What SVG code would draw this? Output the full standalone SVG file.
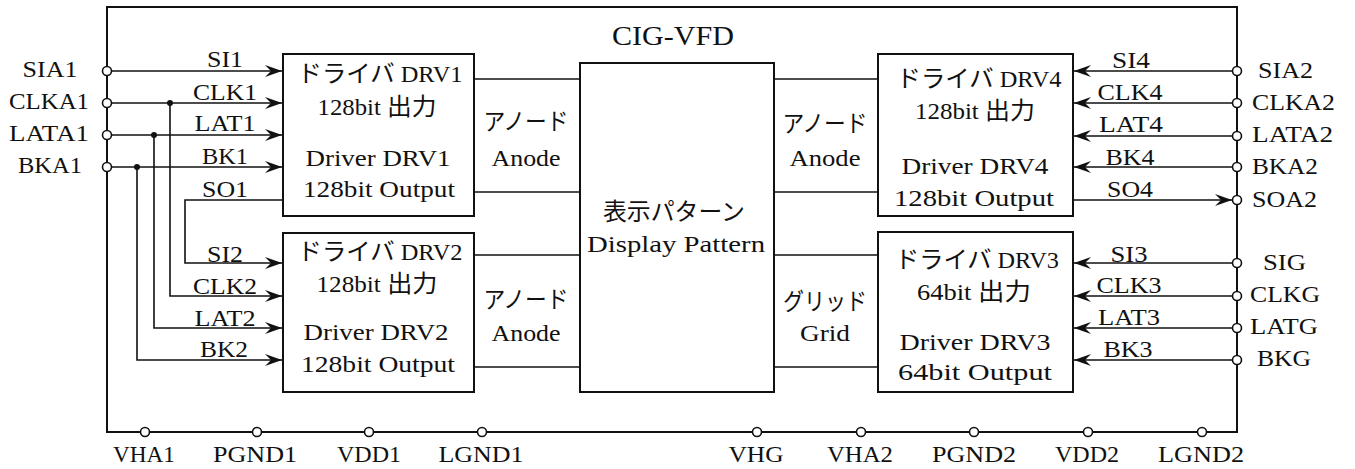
<svg xmlns="http://www.w3.org/2000/svg" width="1355" height="469" viewBox="0 0 1355 469">
<style>
text{font-family:"Liberation Serif","Noto Sans CJK JP",serif;font-size:24px;fill:#111}
.t{font-size:27px}
.c{text-anchor:middle}
.box{fill:#fff;stroke:#111;stroke-width:2}
.ln{fill:none;stroke:#111;stroke-width:1.6}
.fr{fill:none;stroke:#111;stroke-width:2}
.pin{fill:#fff;stroke:#111;stroke-width:1.6}
.dot{fill:#111}
</style>
<defs>
<marker id="ah" markerUnits="userSpaceOnUse" markerWidth="20" markerHeight="14" viewBox="-17 -7 18 14" refX="0" refY="0" orient="auto">
<path d="M-17,-6 L0,0 L-17,6 L-11,0 Z" fill="#111"/>
</marker>
</defs>

<g id="frame">
<path class="fr" d="M107,7 H1237 V432 H107 Z"/>
<text class="t c" x="673" y="45" textLength="122" lengthAdjust="spacingAndGlyphs">CIG-VFD</text>
</g>

<g id="connectors">
<line class="ln" x1="112" y1="71" x2="282" y2="71" marker-end="url(#ah)"/>
<line class="ln" x1="112" y1="103" x2="282" y2="103" marker-end="url(#ah)"/>
<line class="ln" x1="112" y1="135" x2="282" y2="135" marker-end="url(#ah)"/>
<line class="ln" x1="112" y1="167" x2="282" y2="167" marker-end="url(#ah)"/>
<polyline class="ln" points="170,103 170,296 282,296" marker-end="url(#ah)"/>
<polyline class="ln" points="154,135 154,328 282,328" marker-end="url(#ah)"/>
<polyline class="ln" points="137,167 137,360 282,360" marker-end="url(#ah)"/>
<polyline class="ln" points="283,200 185,200 185,263 282,263" marker-end="url(#ah)"/>
<circle class="dot" cx="170" cy="103" r="3"/>
<circle class="dot" cx="154" cy="135" r="3"/>
<circle class="dot" cx="137" cy="167" r="3"/>
<line class="ln" x1="474" y1="79" x2="580" y2="79"/>
<line class="ln" x1="474" y1="192" x2="580" y2="192"/>
<line class="ln" x1="474" y1="255" x2="580" y2="255"/>
<line class="ln" x1="474" y1="367" x2="580" y2="367"/>
<line class="ln" x1="774" y1="79" x2="878" y2="79"/>
<line class="ln" x1="774" y1="192" x2="878" y2="192"/>
<line class="ln" x1="774" y1="255" x2="878" y2="255"/>
<line class="ln" x1="774" y1="367" x2="878" y2="367"/>
<line class="ln" x1="1232" y1="71" x2="1074" y2="71" marker-end="url(#ah)"/>
<line class="ln" x1="1232" y1="103" x2="1074" y2="103" marker-end="url(#ah)"/>
<line class="ln" x1="1232" y1="136" x2="1074" y2="136" marker-end="url(#ah)"/>
<line class="ln" x1="1232" y1="167" x2="1074" y2="167" marker-end="url(#ah)"/>
<line class="ln" x1="1073" y1="200" x2="1232" y2="200" marker-end="url(#ah)"/>
<line class="ln" x1="1232" y1="263" x2="1074" y2="263" marker-end="url(#ah)"/>
<line class="ln" x1="1232" y1="296" x2="1074" y2="296" marker-end="url(#ah)"/>
<line class="ln" x1="1232" y1="328" x2="1074" y2="328" marker-end="url(#ah)"/>
<line class="ln" x1="1232" y1="360" x2="1074" y2="360" marker-end="url(#ah)"/>
<text class="c" x="225" y="67" textLength="36" lengthAdjust="spacingAndGlyphs">SI1</text>
<text class="c" x="225" y="100" textLength="64" lengthAdjust="spacingAndGlyphs">CLK1</text>
<text class="c" x="225" y="131" textLength="61" lengthAdjust="spacingAndGlyphs">LAT1</text>
<text class="c" x="225" y="164" textLength="46" lengthAdjust="spacingAndGlyphs">BK1</text>
<text class="c" x="225" y="197" textLength="46" lengthAdjust="spacingAndGlyphs">SO1</text>
<text class="c" x="225" y="262" textLength="36" lengthAdjust="spacingAndGlyphs">SI2</text>
<text class="c" x="225" y="294" textLength="64" lengthAdjust="spacingAndGlyphs">CLK2</text>
<text class="c" x="225" y="326" textLength="61" lengthAdjust="spacingAndGlyphs">LAT2</text>
<text class="c" x="224" y="357" textLength="48" lengthAdjust="spacingAndGlyphs">BK2</text>
<text class="c" x="1131" y="68" textLength="38" lengthAdjust="spacingAndGlyphs">SI4</text>
<text class="c" x="1130" y="100" textLength="65" lengthAdjust="spacingAndGlyphs">CLK4</text>
<text class="c" x="1131" y="132" textLength="64" lengthAdjust="spacingAndGlyphs">LAT4</text>
<text class="c" x="1130" y="165" textLength="49" lengthAdjust="spacingAndGlyphs">BK4</text>
<text class="c" x="1130" y="197" textLength="46" lengthAdjust="spacingAndGlyphs">SO4</text>
<text class="c" x="1129" y="262" textLength="37" lengthAdjust="spacingAndGlyphs">SI3</text>
<text class="c" x="1129" y="293" textLength="65" lengthAdjust="spacingAndGlyphs">CLK3</text>
<text class="c" x="1129" y="325" textLength="62" lengthAdjust="spacingAndGlyphs">LAT3</text>
<text class="c" x="1128" y="357" textLength="49" lengthAdjust="spacingAndGlyphs">BK3</text>
<text class="c" x="526" y="130" textLength="85" lengthAdjust="spacingAndGlyphs">アノード</text>
<text class="c" x="526" y="166" textLength="69" lengthAdjust="spacingAndGlyphs">Anode</text>
<text class="c" x="526" y="308" textLength="85" lengthAdjust="spacingAndGlyphs">アノード</text>
<text class="c" x="526" y="341" textLength="69" lengthAdjust="spacingAndGlyphs">Anode</text>
<text class="c" x="825" y="132" textLength="85" lengthAdjust="spacingAndGlyphs">アノード</text>
<text class="c" x="825" y="166" textLength="71" lengthAdjust="spacingAndGlyphs">Anode</text>
<text class="c" x="825" y="310" textLength="84" lengthAdjust="spacingAndGlyphs">グリッド</text>
<text class="c" x="825" y="341" textLength="50" lengthAdjust="spacingAndGlyphs">Grid</text>
</g>

<g id="DRV1">
<rect class="box" x="283" y="54" width="191" height="162"/>
<text class="c" x="380" y="82" textLength="165" lengthAdjust="spacingAndGlyphs">ドライバ DRV1</text>
<text class="c" x="377" y="115" textLength="119" lengthAdjust="spacingAndGlyphs">128bit 出力</text>
<text class="c" x="378" y="166" textLength="145" lengthAdjust="spacingAndGlyphs">Driver DRV1</text>
<text class="c" x="379" y="197" textLength="152" lengthAdjust="spacingAndGlyphs">128bit Output</text>
</g>

<g id="DRV2">
<rect class="box" x="283" y="233" width="191" height="159"/>
<text class="c" x="380" y="260" textLength="165" lengthAdjust="spacingAndGlyphs">ドライバ DRV2</text>
<text class="c" x="377" y="292" textLength="121" lengthAdjust="spacingAndGlyphs">128bit 出力</text>
<text class="c" x="376" y="340" textLength="145" lengthAdjust="spacingAndGlyphs">Driver DRV2</text>
<text class="c" x="378" y="372" textLength="154" lengthAdjust="spacingAndGlyphs">128bit Output</text>
</g>

<g id="display">
<rect class="box" x="580" y="63" width="194" height="329"/>
<text class="c" x="674" y="220" textLength="142" lengthAdjust="spacingAndGlyphs">表示パターン</text>
<text class="c" x="676" y="252" textLength="178" lengthAdjust="spacingAndGlyphs">Display Pattern</text>
</g>

<g id="DRV4">
<rect class="box" x="878" y="54" width="195" height="162"/>
<text class="c" x="979" y="87" textLength="165" lengthAdjust="spacingAndGlyphs">ドライバ DRV4</text>
<text class="c" x="975" y="119" textLength="120" lengthAdjust="spacingAndGlyphs">128bit 出力</text>
<text class="c" x="975" y="174" textLength="147" lengthAdjust="spacingAndGlyphs">Driver DRV4</text>
<text class="c" x="974" y="206" textLength="160" lengthAdjust="spacingAndGlyphs">128bit Output</text>
</g>

<g id="DRV3">
<rect class="box" x="878" y="232" width="195" height="160"/>
<text class="c" x="977" y="268" textLength="164" lengthAdjust="spacingAndGlyphs">ドライバ DRV3</text>
<text class="c" x="974" y="300" textLength="114" lengthAdjust="spacingAndGlyphs">64bit 出力</text>
<text class="c" x="975" y="350" textLength="151" lengthAdjust="spacingAndGlyphs">Driver DRV3</text>
<text class="c" x="975" y="380" textLength="154" lengthAdjust="spacingAndGlyphs">64bit Output</text>
</g>

<g id="pins-left">
<circle class="pin" cx="107" cy="71" r="4.5"/>
<circle class="pin" cx="107" cy="103" r="4.5"/>
<circle class="pin" cx="107" cy="135" r="4.5"/>
<circle class="pin" cx="107" cy="167" r="4.5"/>
<text class="c" x="50" y="77" textLength="55" lengthAdjust="spacingAndGlyphs">SIA1</text>
<text class="c" x="49" y="109" textLength="80" lengthAdjust="spacingAndGlyphs">CLKA1</text>
<text class="c" x="49" y="141" textLength="80" lengthAdjust="spacingAndGlyphs">LATA1</text>
<text class="c" x="50" y="173" textLength="64" lengthAdjust="spacingAndGlyphs">BKA1</text>
</g>

<g id="pins-right">
<circle class="pin" cx="1237" cy="71" r="4.5"/>
<circle class="pin" cx="1237" cy="103" r="4.5"/>
<circle class="pin" cx="1237" cy="136" r="4.5"/>
<circle class="pin" cx="1237" cy="167" r="4.5"/>
<circle class="pin" cx="1237" cy="200" r="4.5"/>
<circle class="pin" cx="1237" cy="263" r="4.5"/>
<circle class="pin" cx="1237" cy="296" r="4.5"/>
<circle class="pin" cx="1237" cy="328" r="4.5"/>
<circle class="pin" cx="1237" cy="360" r="4.5"/>
<text x="1258" y="78" textLength="55" lengthAdjust="spacingAndGlyphs">SIA2</text>
<text x="1252" y="110" textLength="83" lengthAdjust="spacingAndGlyphs">CLKA2</text>
<text x="1252" y="142" textLength="81" lengthAdjust="spacingAndGlyphs">LATA2</text>
<text x="1252" y="174" textLength="66" lengthAdjust="spacingAndGlyphs">BKA2</text>
<text x="1252" y="207" textLength="65" lengthAdjust="spacingAndGlyphs">SOA2</text>
<text x="1263" y="270" textLength="43" lengthAdjust="spacingAndGlyphs">SIG</text>
<text x="1250" y="302" textLength="70" lengthAdjust="spacingAndGlyphs">CLKG</text>
<text x="1250" y="334" textLength="68" lengthAdjust="spacingAndGlyphs">LATG</text>
<text x="1257" y="366" textLength="54" lengthAdjust="spacingAndGlyphs">BKG</text>
</g>

<g id="pins-bottom">
<circle class="pin" cx="145" cy="432" r="4.5"/>
<circle class="pin" cx="257" cy="432" r="4.5"/>
<circle class="pin" cx="369" cy="432" r="4.5"/>
<circle class="pin" cx="482" cy="432" r="4.5"/>
<circle class="pin" cx="757" cy="432" r="4.5"/>
<circle class="pin" cx="861" cy="432" r="4.5"/>
<circle class="pin" cx="974" cy="432" r="4.5"/>
<circle class="pin" cx="1088" cy="432" r="4.5"/>
<circle class="pin" cx="1202" cy="432" r="4.5"/>
<text class="c" x="144" y="462" textLength="62" lengthAdjust="spacingAndGlyphs">VHA1</text>
<text class="c" x="255" y="462" textLength="84" lengthAdjust="spacingAndGlyphs">PGND1</text>
<text class="c" x="369" y="462" textLength="64" lengthAdjust="spacingAndGlyphs">VDD1</text>
<text class="c" x="481" y="462" textLength="85" lengthAdjust="spacingAndGlyphs">LGND1</text>
<text class="c" x="756" y="462" textLength="55" lengthAdjust="spacingAndGlyphs">VHG</text>
<text class="c" x="860" y="462" textLength="66" lengthAdjust="spacingAndGlyphs">VHA2</text>
<text class="c" x="974" y="462" textLength="84" lengthAdjust="spacingAndGlyphs">PGND2</text>
<text class="c" x="1087" y="462" textLength="64" lengthAdjust="spacingAndGlyphs">VDD2</text>
<text class="c" x="1201" y="462" textLength="86" lengthAdjust="spacingAndGlyphs">LGND2</text>
</g>
</svg>
